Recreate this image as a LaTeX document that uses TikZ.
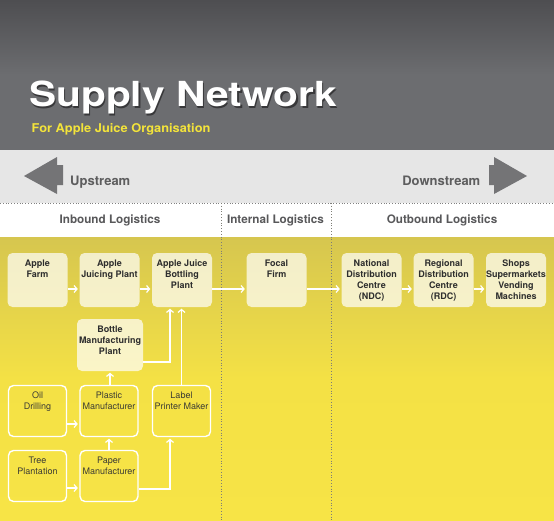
\documentclass[tikz,border=0pt]{standalone}
\usepackage{fontspec}
\setmainfont{TeX Gyre Heros}
\newfontfamily\titlefont[FakeStretch=1.18]{TeX Gyre Heros}
\newfontfamily\subfont[FakeStretch=1.06]{TeX Gyre Heros}
\usetikzlibrary{arrows.meta,positioning}
\definecolor{hdrtop}{HTML}{4E4E51}
\definecolor{hdrbot}{HTML}{6C6D70}
\definecolor{bandgray}{HTML}{E6E6E6}
\definecolor{yeltop}{HTML}{D6C64F}
\definecolor{yelmid}{HTML}{F4E145}
\definecolor{yelbot}{HTML}{F7E446}
\definecolor{subyellow}{HTML}{F4E43A}
\definecolor{streamgray}{HTML}{747476}
\definecolor{headgray}{HTML}{58585A}
\definecolor{boxtext}{HTML}{2E2E2E}
\definecolor{suptextc}{HTML}{3C3C34}
\definecolor{dotgray}{HTML}{7E7E76}
\definecolor{shadowc}{HTML}{38383A}

\begin{document}
\begin{tikzpicture}[x=1pt,y=-1pt,
  box/.style={rectangle,rounded corners=5pt,minimum width=60pt,minimum height=54pt,inner sep=0pt},
  firmbox/.style={box,fill=white,fill opacity=0.7},
  supbox/.style={box,draw=white,line width=1.4pt,minimum width=58pt,minimum height=51pt},
  firmtext/.style={anchor=north,yshift=-7pt,inner sep=0pt,align=center,text=boxtext,
    fill opacity=1,text opacity=1,font=\fontsize{9}{11}\selectfont\bfseries},
  suptext/.style={firmtext,text=suptextc,font=\fontsize{9}{11}\selectfont},
  flow/.style={draw=white,line width=1.2pt,-{Straight Barb[length=3pt,width=7pt]},shorten >=1.5pt},
  sechead/.style={anchor=base,text=headgray,font=\fontsize{11.7}{14}\selectfont\bfseries},
  streamtext/.style={text=streamgray!80!black,font=\fontsize{13}{15}\selectfont\bfseries},
  sepline/.style={dotted,line width=0.8pt,draw=dotgray}]
  \useasboundingbox (0,0) rectangle (554,520);

  % Bands
  \shade[top color=hdrtop,bottom color=hdrbot,middle color=hdrbot] (0,0) rectangle (554,150);
  \fill[bandgray] (0,150) rectangle (554,203);
  \fill[white] (0,203) rectangle (554,237);
  \shade[top color=yeltop,bottom color=yelbot,middle color=yelmid] (0,237) rectangle (554,520);

  % Title
  \node[anchor=base west,inner sep=0pt,text=shadowc,font=\titlefont\fontsize{34.5}{40}\selectfont\bfseries]
    (titleshadow) at (30.5,108) {Supply Network};
  \node[anchor=base west,inner sep=0pt,text=white,font=\titlefont\fontsize{34.5}{40}\selectfont\bfseries]
    (title) at (29,106.5) {Supply Network};
  \node[anchor=base west,inner sep=0pt,text=subyellow,font=\subfont\fontsize{12.1}{14}\selectfont\bfseries]
    (subtitle) at (31.5,132.7) {For Apple Juice Organisation};

  % Upstream / downstream arrows
  \fill[streamgray] (24,176) -- (57,157) -- (57,165) -- (63,165) -- (63,185) -- (57,185) -- (57,194) -- cycle;
  \fill[streamgray] (527,176) -- (494,157) -- (494,165) -- (489,165) -- (489,185) -- (494,185) -- (494,194) -- cycle;
  \node[streamtext,anchor=base west,inner sep=0pt] (up) at (70,185.5) {Upstream};
  \node[streamtext,anchor=base east,inner sep=0pt] (down) at (480.5,185.5) {Downstream};

  % Section separators
  \draw[sepline,draw=gray] (0,203) -- (554,203);
  \draw[sepline] (221,203) -- (221,520);
  \draw[sepline] (331,203) -- (331,520);
  \node[sechead] (inbound) at (110,223.3) {Inbound Logistics};
  \node[sechead] (internal) at (275.5,223.3) {Internal Logistics};
  \node[sechead] (outbound) at (442,223.3) {Outbound Logistics};

  % Main chain
  \node[firmbox,label={[firmtext]north:{Apple\\Farm}}] (farm) at (37.5,280) {};
  \node[firmbox,label={[firmtext]north:{Apple\\Juicing Plant}}] (juicing) at (109.5,280) {};
  \node[firmbox,label={[firmtext]north:{Apple Juice\\Bottling\\Plant}}] (bottling) at (182,280) {};
  \node[firmbox,label={[firmtext]north:{Focal\\Firm}}] (focal) at (276.5,280) {};
  \node[firmbox,label={[firmtext]north:{National\\Distribution\\Centre\\(NDC)}}] (ndc) at (371.5,280) {};
  \node[firmbox,label={[firmtext]north:{Regional\\Distribution\\Centre\\(RDC)}}] (rdc) at (443.5,280) {};
  \node[firmbox,label={[firmtext]north:{Shops\\Supermarkets\\Vending\\Machines}}] (shops) at (516,280) {};
  \node[firmbox,minimum width=66pt,minimum height=52pt,
    label={[firmtext]north:{Bottle\\Manufacturing\\Plant}}] (bottle) at (110,345) {};

  % Raw material suppliers
  \node[supbox,label={[suptext]north:{Oil\\Drilling}}] (oil) at (37.5,411) {};
  \node[supbox,label={[suptext]north:{Plastic\\Manufacturer}}] (plastic) at (109,411) {};
  \node[supbox,label={[suptext]north:{Label\\Printer Maker}}] (printer) at (181.5,411) {};
  \node[supbox,label={[suptext]north:{Tree\\Plantation}}] (tree) at (37.5,476) {};
  \node[supbox,label={[suptext]north:{Paper\\Manufacturer}}] (paper) at (109,476) {};

  % Flows
  \draw[flow] ([yshift=-9pt]farm.east) -- ([yshift=-9pt]juicing.west);
  \draw[flow] ([yshift=-9pt]juicing.east) -- ([yshift=-9pt]bottling.west);
  \draw[flow] ([yshift=-9pt]bottling.east) -- ([yshift=-9pt]focal.west);
  \draw[flow] ([yshift=-9pt]focal.east) -- ([yshift=-9pt]ndc.west);
  \draw[flow] ([yshift=-9pt]ndc.east) -- ([yshift=-9pt]rdc.west);
  \draw[flow] ([yshift=-9pt]rdc.east) -- ([yshift=-9pt]shops.west);
  \draw[flow] ([yshift=-17pt]bottle.east) -| ([xshift=-12pt]bottling.south);
  \draw[flow] (printer.north) -- (printer.north |- bottling.south);
  \draw[flow] (bottle.south |- plastic.north) -- (bottle.south);
  \draw[flow] (paper.north) -- (plastic.south);
  \draw[flow] ([yshift=-13pt]oil.east) -- ([yshift=-13pt]plastic.west);
  \draw[flow] ([yshift=-12pt]tree.east) -- ([yshift=-12pt]paper.west);
  \draw[flow] ([yshift=-13pt]paper.east) -| ([xshift=-11.5pt]printer.south);
\end{tikzpicture}
\end{document}
